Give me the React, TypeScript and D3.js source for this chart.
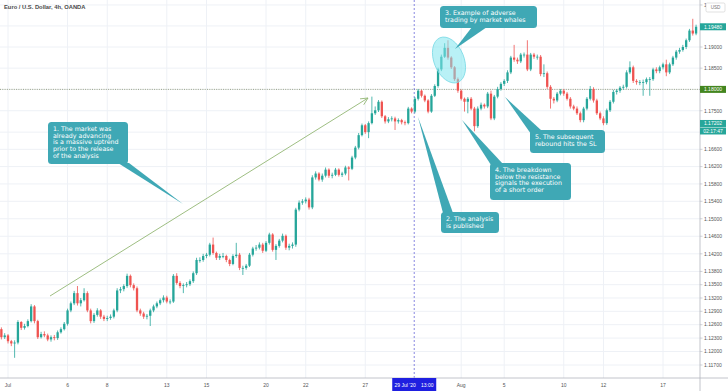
import * as d3 from "d3";

// EUR/USD 4h candles, Jun 30 16:00 -> Aug 18
const firstOpen = 1.125;
const closes = [
  1.1232, 1.1236, 1.1223, 1.1218, 1.122, 1.1266, 1.1253, 1.1257, 1.1268, 1.1301,
  1.1268, 1.1232, 1.1239, 1.1236, 1.1227, 1.1232, 1.123, 1.1243, 1.125, 1.1262,
  1.1292, 1.1308, 1.1331, 1.1308, 1.1315, 1.1331, 1.1292, 1.1268, 1.1282, 1.1292,
  1.1278, 1.1273, 1.1275, 1.1278, 1.1292, 1.1337, 1.134, 1.1347, 1.137, 1.1349,
  1.1342, 1.1292, 1.1285, 1.1278, 1.128, 1.1292, 1.1301, 1.1308, 1.1315, 1.1321,
  1.1312, 1.1312, 1.137, 1.1354, 1.1347, 1.1349, 1.1351, 1.1358, 1.1376, 1.1406,
  1.1406, 1.1415, 1.1418, 1.1441, 1.1422, 1.1411, 1.1415, 1.1415, 1.1406, 1.1397,
  1.1415, 1.1418, 1.1388, 1.1388, 1.1393, 1.1418, 1.1432, 1.1434, 1.1441, 1.1427,
  1.1445, 1.1464, 1.1429, 1.1438, 1.145, 1.1461, 1.1434, 1.1438, 1.1441, 1.1521,
  1.1537, 1.154, 1.1544, 1.1526, 1.1595, 1.1604, 1.159, 1.1599, 1.1613, 1.1599,
  1.1601, 1.1613, 1.1601, 1.1604, 1.1618, 1.1615, 1.1641, 1.1664, 1.1693, 1.1716,
  1.17, 1.1721, 1.1744, 1.1751, 1.1771, 1.1737, 1.1725, 1.173, 1.1732, 1.1725,
  1.1728, 1.1723, 1.1721, 1.1755, 1.1748, 1.1778, 1.1797, 1.1785, 1.1774, 1.1748,
  1.1785, 1.1808, 1.1847, 1.1877, 1.1898, 1.1875, 1.1852, 1.1824, 1.1797, 1.1778,
  1.1771, 1.1778, 1.1755, 1.1714, 1.1755, 1.1764, 1.176, 1.179, 1.1732, 1.1783,
  1.1801, 1.1813, 1.182, 1.184, 1.1875, 1.187, 1.1866, 1.1882, 1.1882, 1.1847,
  1.1882, 1.1877, 1.1877, 1.1836, 1.1838, 1.1806, 1.1778, 1.1774, 1.179, 1.1797,
  1.179, 1.1778, 1.176, 1.1755, 1.1744, 1.1728, 1.1755, 1.1778, 1.1801, 1.1774,
  1.1744, 1.1732, 1.1721, 1.1751, 1.1771, 1.1794, 1.1797, 1.1804, 1.1806, 1.184,
  1.1852, 1.182, 1.1817, 1.1817, 1.1817, 1.1824, 1.1824, 1.1847, 1.1843, 1.1852,
  1.1859, 1.184, 1.1859, 1.1875, 1.1889, 1.1893, 1.19, 1.1916, 1.1939, 1.1932, 1.1948,
];
const highs = [
  1.1254, 1.1241, 1.1239, 1.1226, 1.1225, 1.127, 1.1268, 1.1262, 1.1272, 1.1306,
  1.1304, 1.1271, 1.1244, 1.1245, 1.124, 1.1236, 1.1237, 1.1247, 1.1254, 1.1266,
  1.1296, 1.1312, 1.1336, 1.1347, 1.132, 1.1342, 1.1335, 1.1296, 1.1286, 1.1297,
  1.1295, 1.1282, 1.128, 1.1283, 1.1296, 1.1342, 1.1345, 1.1351, 1.1375, 1.1373,
  1.1353, 1.1346, 1.1296, 1.1289, 1.1284, 1.1296, 1.1305, 1.1312, 1.1319, 1.1326,
  1.1325, 1.1317, 1.1374, 1.1376, 1.1358, 1.1353, 1.1356, 1.1362, 1.138, 1.1411,
  1.1412, 1.142, 1.1422, 1.1445, 1.1457, 1.1425, 1.142, 1.1422, 1.1418, 1.1409,
  1.1419, 1.1445, 1.1422, 1.1393, 1.1397, 1.1422, 1.1436, 1.144, 1.1446, 1.1445,
  1.1449, 1.1468, 1.1467, 1.1442, 1.1454, 1.1466, 1.1464, 1.1443, 1.1446, 1.1525,
  1.1542, 1.1545, 1.1549, 1.1548, 1.16, 1.1609, 1.1607, 1.1604, 1.1618, 1.1616,
  1.1606, 1.1617, 1.1616, 1.1608, 1.1622, 1.1621, 1.1645, 1.1668, 1.1698, 1.172,
  1.1719, 1.1725, 1.1783, 1.176, 1.1775, 1.1774, 1.174, 1.1735, 1.1737, 1.1736,
  1.1732, 1.1731, 1.1727, 1.1759, 1.1758, 1.1782, 1.1801, 1.1799, 1.1788, 1.1777,
  1.1789, 1.1812, 1.1851, 1.1882, 1.1909, 1.1916, 1.1878, 1.1855, 1.1828, 1.18,
  1.1781, 1.1782, 1.1782, 1.1759, 1.176, 1.1769, 1.1767, 1.1794, 1.1797, 1.1787,
  1.1806, 1.1817, 1.1824, 1.1845, 1.1879, 1.1905, 1.1875, 1.1886, 1.1887, 1.1916,
  1.1886, 1.1886, 1.1882, 1.1881, 1.1859, 1.1842, 1.181, 1.1782, 1.1794, 1.1801,
  1.1801, 1.1794, 1.1782, 1.1764, 1.176, 1.1748, 1.1759, 1.1782, 1.1808, 1.1805,
  1.1778, 1.1748, 1.1737, 1.1755, 1.1775, 1.1799, 1.1801, 1.1808, 1.1811, 1.1845,
  1.1866, 1.1856, 1.1824, 1.1822, 1.1823, 1.1828, 1.1829, 1.1851, 1.1852, 1.1856,
  1.1863, 1.187, 1.1863, 1.1879, 1.1893, 1.1898, 1.1905, 1.192, 1.1943, 1.1967, 1.1953,
];
const lows = [
  1.1227, 1.1228, 1.1218, 1.1212, 1.1186, 1.1216, 1.1248, 1.1249, 1.1254, 1.1265,
  1.1263, 1.1228, 1.1229, 1.1232, 1.1223, 1.1222, 1.1225, 1.1226, 1.124, 1.1247,
  1.1258, 1.1288, 1.1304, 1.1303, 1.1301, 1.1312, 1.1288, 1.1263, 1.1264, 1.1278,
  1.1273, 1.1268, 1.1268, 1.1271, 1.1274, 1.1288, 1.1331, 1.1335, 1.1343, 1.1344,
  1.1337, 1.1288, 1.128, 1.1273, 1.1272, 1.1257, 1.1288, 1.1297, 1.1304, 1.131,
  1.1308, 1.1306, 1.1309, 1.135, 1.1342, 1.1331, 1.1344, 1.1347, 1.1354, 1.1372,
  1.14, 1.1402, 1.141, 1.1414, 1.1418, 1.1406, 1.1406, 1.141, 1.1401, 1.1392,
  1.1394, 1.1411, 1.1383, 1.1372, 1.1384, 1.139, 1.1414, 1.1427, 1.143, 1.1422,
  1.1424, 1.1441, 1.1425, 1.1406, 1.1434, 1.1446, 1.1429, 1.1428, 1.1432, 1.1436,
  1.1517, 1.1532, 1.1535, 1.1521, 1.1522, 1.159, 1.1586, 1.1585, 1.1595, 1.1594,
  1.1593, 1.1598, 1.1597, 1.1596, 1.16, 1.1588, 1.1612, 1.1637, 1.166, 1.169,
  1.1696, 1.1686, 1.1718, 1.174, 1.1747, 1.1733, 1.172, 1.1721, 1.1725, 1.1705,
  1.172, 1.1718, 1.1716, 1.1718, 1.1744, 1.1744, 1.1774, 1.1781, 1.177, 1.1744,
  1.1745, 1.1782, 1.1804, 1.1843, 1.1874, 1.187, 1.1848, 1.182, 1.1792, 1.1774,
  1.1748, 1.1744, 1.1751, 1.1702, 1.171, 1.1751, 1.1755, 1.1756, 1.1728, 1.1728,
  1.1779, 1.1797, 1.1808, 1.1815, 1.1836, 1.1865, 1.186, 1.1862, 1.1875, 1.1843,
  1.1843, 1.1872, 1.187, 1.1831, 1.1829, 1.1801, 1.1755, 1.1767, 1.177, 1.1786,
  1.1785, 1.1774, 1.1755, 1.1751, 1.174, 1.1723, 1.1723, 1.1751, 1.1774, 1.1769,
  1.174, 1.1728, 1.1716, 1.1717, 1.1747, 1.1767, 1.1788, 1.1792, 1.1799, 1.1802,
  1.1836, 1.1815, 1.1811, 1.181, 1.1785, 1.1812, 1.1785, 1.182, 1.1838, 1.1838,
  1.1847, 1.1831, 1.1836, 1.1855, 1.187, 1.1884, 1.1889, 1.1895, 1.1912, 1.1927, 1.1928,
];

// time axis: candle index of each label
const xTickLabels = ["Jul", "6", "8", "13", "15", "20", "22", "27", "Aug", "5", "10", "12", "17"];
const xTickIndex = [2, 20, 32, 50, 62, 80, 92, 110, 139, 152, 170, 182, 200];

const yTicks = [
  1.2, 1.195, 1.19, 1.185, 1.18, 1.175, 1.17, 1.166, 1.162, 1.158, 1.154, 1.15,
  1.146, 1.142, 1.138, 1.135, 1.132, 1.129, 1.126, 1.123, 1.12, 1.117,
];

const lastPrice = 1.1948;
const levelPrice = 1.18;
const livePrice = 1.17202;
const countdown = "02:17:47";
const publishIndex = 124.8;
const publishLabel = ["29 Jul '20", "13:00"];

const title = "Euro / U.S. Dollar, 4h, OANDA";

// annotation layout (pixels)
const callouts = [
  {
    box: [48, 122, 80, 42],
    tail: [[118, 163], [129, 163], [183, 204]],
    lines: ["1. The market was", "already advancing", "is a massive uptrend", "prior to the release", "of the analysis"],
  },
  {
    box: [441, 212, 58, 21],
    tail: [[443, 213], [453, 213], [418, 117]],
    lines: ["2. The analysis", "is published"],
  },
  {
    box: [440, 6, 97, 22],
    tail: [[472, 27], [487, 27], [455, 49]],
    lines: ["3. Example of adverse", "trading by market whales"],
  },
  {
    box: [490, 163, 81, 37],
    tail: [[491, 165], [503, 164], [462, 120]],
    lines: ["4. The breakdown", "below the resistance", "signals the execution", "of a short order"],
  },
  {
    box: [530, 130, 75, 23],
    tail: [[531, 134], [542, 131], [505, 97]],
    lines: ["5. The subsequent", "rebound hits the SL"],
  },
];

const W = 728;
const H = 391;
const plotRight = 700;
const plotBottom = 378;

const UP = "#26a69a";
const DOWN = "#ef5350";
const CALLOUT = "#3fa8b5";

export default function App() {
  const x = d3.scaleLinear().domain([2, 200]).range([8, 663]);
  const y = d3.scaleLog().domain([1.117, 1.19]).range([365, 47]);
  const fmt = d3.format(".5f");

  const opens = [firstOpen, ...closes.slice(0, -1)];
  const candles = closes.map((c, i) => ({ i, o: opens[i], c, h: highs[i], l: lows[i] }));
  const bw = 2.3;

  const arrowStart = [50, 296];
  const arrowEnd = [368, 98];
  const ang = Math.atan2(arrowEnd[1] - arrowStart[1], arrowEnd[0] - arrowStart[0]);
  const head = [ang + Math.PI - 0.45, ang + Math.PI + 0.45].map((a) => [
    arrowEnd[0] + 8 * Math.cos(a),
    arrowEnd[1] + 8 * Math.sin(a),
  ]);

  const tag = (price: number, label: string, fill: string, key: string, yy?: number) => {
    const cy = yy ?? y(price);
    return (
      <g key={key}>
        <rect x={plotRight} y={cy - 3.5} width={26} height={7} fill={fill} />
        <text x={plotRight + 13} y={cy + 1.8} fontSize={5} fill="#fff" textAnchor="middle" fontFamily="Liberation Sans">
          {label}
        </text>
      </g>
    );
  };

  return (
    <svg width={W} height={H} style={{ position: "absolute", left: 0, top: 0, background: "#fff" }}>
      <defs>
        <clipPath id="plot">
          <rect x={0} y={0} width={plotRight} height={plotBottom} />
        </clipPath>
      </defs>
      <rect x={0} y={0} width={W} height={H} fill="#fff" />

      <g clipPath="url(#plot)">
        {xTickIndex.map((t) => (
          <line key={"vx" + t} x1={x(t)} x2={x(t)} y1={0} y2={plotBottom} stroke="#eef1f6" />
        ))}
        {yTicks.map((t) => (
          <line key={"hy" + t} x1={0} x2={plotRight} y1={y(t)} y2={y(t)} stroke="#eef1f6" />
        ))}

        <line x1={0} x2={plotRight} y1={y(levelPrice)} y2={y(levelPrice)} stroke="#8f9a78" strokeWidth={0.9} strokeDasharray="1,1.3" />
        <line x1={x(publishIndex)} x2={x(publishIndex)} y1={0} y2={plotBottom} stroke="#6a6ad8" strokeWidth={0.8} strokeDasharray="2,2" />

        {candles.map((d) => {
          const col = d.c >= d.o ? UP : DOWN;
          const top = y(Math.max(d.o, d.c));
          const bot = y(Math.min(d.o, d.c));
          return (
            <g key={d.i}>
              <line x1={x(d.i)} x2={x(d.i)} y1={y(d.h)} y2={y(d.l)} stroke={col} strokeWidth={0.8} />
              <rect x={x(d.i) - bw / 2} y={top} width={bw} height={Math.max(0.8, bot - top)} fill={col} />
            </g>
          );
        })}

        <ellipse cx={449} cy={60} rx={15} ry={24} transform="rotate(-22 449 60)" fill="#7fe6ef" fillOpacity={0.55} stroke="#7fdbe6" strokeWidth={0.8} />

        <line x1={arrowStart[0]} y1={arrowStart[1]} x2={arrowEnd[0]} y2={arrowEnd[1]} stroke="#93b774" strokeWidth={0.9} />
        {head.map((p, k) => (
          <line key={"ah" + k} x1={arrowEnd[0]} y1={arrowEnd[1]} x2={p[0]} y2={p[1]} stroke="#93b774" strokeWidth={0.9} />
        ))}

        {callouts.map((c, k) => (
          <g key={"co" + k}>
            <polygon points={c.tail.map((p) => p.join(",")).join(" ")} fill={CALLOUT} />
            <rect x={c.box[0]} y={c.box[1]} width={c.box[2]} height={c.box[3]} rx={3.5} fill={CALLOUT} />
            {c.lines.map((ln, j) => (
              <text key={j} x={c.box[0] + 5} y={c.box[1] + 9 + j * 6.7} fontSize={6.3} fill="#fff" fontFamily="DejaVu Sans">
                {ln}
              </text>
            ))}
          </g>
        ))}
      </g>

      {/* axes */}
      <line x1={plotRight} x2={plotRight} y1={0} y2={H} stroke="#b2b5be" strokeWidth={0.8} />
      <line x1={0} x2={W} y1={plotBottom} y2={plotBottom} stroke="#b2b5be" strokeWidth={0.8} />
      {yTicks.map((t) => (
        <g key={"yl" + t}>
          <line x1={plotRight} x2={plotRight + 2.5} y1={y(t)} y2={y(t)} stroke="#b2b5be" strokeWidth={0.6} />
          <text x={plotRight + 4} y={y(t) + 1.8} fontSize={5} fill="#555" fontFamily="Liberation Sans">
            {fmt(t)}
          </text>
        </g>
      ))}
      {xTickIndex.map((t, k) => (
        <text key={"xl" + t} x={x(t)} y={387} fontSize={5} fill="#555" textAnchor="middle" fontFamily="Liberation Sans">
          {xTickLabels[k]}
        </text>
      ))}

      <rect x={x(publishIndex) - 22} y={plotBottom} width={44} height={13} fill="#1f1fe0" />
      <text x={x(publishIndex) - 9} y={387} fontSize={5} fill="#fff" textAnchor="middle" fontFamily="Liberation Sans">
        {publishLabel[0]}
      </text>
      <text x={x(publishIndex) + 13} y={387} fontSize={5} fill="#fff" textAnchor="middle" fontFamily="Liberation Sans">
        {publishLabel[1]}
      </text>

      {tag(lastPrice, fmt(lastPrice), UP, "t1")}
      {tag(levelPrice, fmt(levelPrice), "#43861f", "t2")}
      {tag(livePrice, fmt(livePrice), UP, "t3")}
      {tag(livePrice, countdown, UP, "t4", y(livePrice) + 7.5)}

      <rect x={706} y={3} width={19} height={9} rx={1.5} fill="#fff" stroke="#ccc" strokeWidth={0.6} />
      <text x={715.5} y={9.3} fontSize={4.6} fill="#777" textAnchor="middle" fontFamily="Liberation Sans">
        USD
      </text>

      <text x={4} y={9} fontSize={5.8} fontWeight={600} fill="#4a4a4a" fontFamily="Liberation Sans">
        {title}
      </text>
    </svg>
  );
}
